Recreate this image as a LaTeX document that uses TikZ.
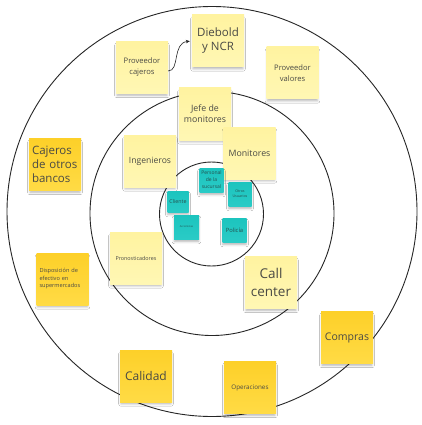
\documentclass[tikz,border=0pt]{standalone}
\usepackage{fontspec}
\setmainfont{Open Sans}
\usetikzlibrary{shadows.blur,arrows.meta}
\definecolor{lyA}{HTML}{FFF3A0}
\definecolor{lyB}{HTML}{FFF7B4}
\definecolor{dyA}{HTML}{FDD029}
\definecolor{dyB}{HTML}{FFDB45}
\definecolor{tlA}{HTML}{1CC4BE}
\definecolor{tlB}{HTML}{2ACBC6}
\definecolor{txt}{HTML}{4A4A45}
\definecolor{ttxt}{HTML}{24504E}
\newcommand\myfs[2]{\fontsize{#1}{#2}\selectfont}
\begin{document}
\begin{tikzpicture}[x=1pt,y=-1pt,
  notebase/.style={minimum width=52pt,minimum height=52pt,inner sep=0pt,align=center,text=txt,
    blur shadow={shadow xshift=0pt,shadow yshift=-3pt,shadow opacity=30,shadow blur radius=2.5pt,shadow scale=0.96}},
  lightnote/.style={notebase,top color=lyA,bottom color=lyB},
  darknote/.style={notebase,top color=dyA,bottom color=dyB},
  tealnote/.style={notebase,minimum width=24pt,minimum height=24pt,top color=tlA,bottom color=tlB,text=ttxt},
  ring/.style={draw=black!85,line width=0.9pt}]
\useasboundingbox (0,0) rectangle (422,425);
\fill[white] (0,0) rectangle (422,425);
% rings
\draw[ring] (212,211.5) circle[radius=205pt];
\draw[ring] (212,213.5) circle[radius=122pt];
\draw[ring] (211.5,214) circle[radius=52pt];
% outer ring notes
\node[lightnote,font=\myfs{7.6}{11}] (pc) at (142,67.5) {Proveedor\\cajeros};
\node[lightnote,font=\myfs{11.5}{14}] (db) at (218,41) {Diebold\\y NCR};
\node[lightnote,font=\myfs{7.6}{11}] (pv) at (292.5,73) {Proveedor\\valores};
\node[darknote,font=\myfs{11.5}{14},align=left,text width=46pt] (cob) at (55,164.5) {Cajeros\\de otros\\bancos};
\node[darknote,font=\myfs{5.6}{7.5},align=left,text width=46pt] (dis) at (62.5,279) {Disposición de\\efectivo en\\supermercados};
\node[darknote,font=\myfs{10.5}{13}] (com) at (347,337.5) {Compras};
\node[darknote,font=\myfs{12}{14}] (cal) at (146,376) {Calidad};
\node[darknote,font=\myfs{6.3}{8}] (ope) at (250,387.5) {Operaciones};
% middle ring notes
\node[lightnote,font=\myfs{8.8}{11}] (jm) at (205,114) {Jefe de\\monitores};
\node[lightnote,font=\myfs{8.6}{11}] (ing) at (150,161) {Ingenieros};
\node[lightnote,font=\myfs{8.8}{11}] (mon) at (249.5,153) {Monitores};
\node[lightnote,font=\myfs{5.4}{7}] (pro) at (136,258) {Pronosticadores};
\node[lightnote,font=\myfs{13.5}{18}] (cc) at (271,282.5) {Call\\center};
% inner ring notes
\node[tealnote,font=\myfs{5}{7}] (ps) at (211.5,180) {Personal\\de la\\sucursal};
\node[tealnote,minimum width=21pt,minimum height=21pt,font=\myfs{5.3}{7}] (cli) at (178,201.5) {Cliente};
\node[tealnote,minimum width=23pt,minimum height=24pt,font=\myfs{3.6}{5}] (ou) at (240,194) {Otros\\Usuarios};
\node[tealnote,minimum width=25pt,minimum height=24pt,font=\myfs{2.6}{4}] (acc) at (186.5,227) {Accionistas};
\node[tealnote,font=\myfs{5.8}{7}] (pol) at (234.5,230) {Policía};
% connector
\draw[-{Stealth[length=4pt,width=3.5pt]},line width=0.6pt,black!85,shorten >=2pt]
  ([yshift=-3.5pt]pc.east) .. controls (180,71) and (172,43) .. (db.west);
\end{tikzpicture}
\end{document}
